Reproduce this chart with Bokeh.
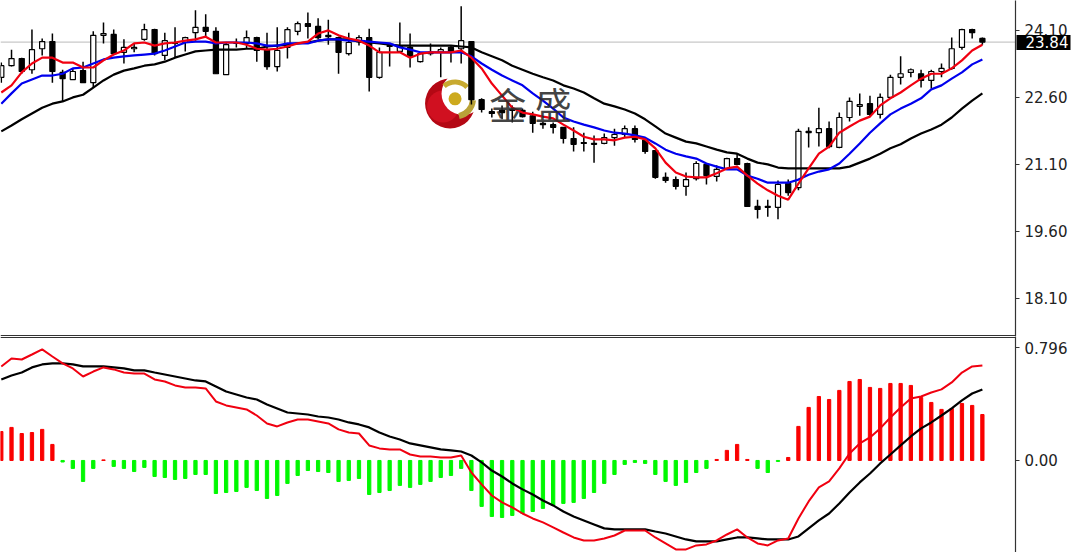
from bokeh.plotting import figure
from bokeh.layouts import column
from bokeh.models import Range1d, FixedTicker, Span, Label, ColumnDataSource, LinearAxis
from bokeh.embed import file_html
from bokeh.resources import INLINE

opens = [23.05,23.31,23.47,23.22,23.69,23.85,23.16,23.00,23.20,22.93,
23.99,24.01,23.61,23.69,23.90,24.12,23.54,23.81,23.83,24.05,
24.17,24.08,23.11,23.81,23.81,23.94,23.67,23.29,23.72,24.08,
24.25,24.19,23.96,23.94,23.58,23.85,23.94,23.05,23.74,23.63,
23.72,23.40,23.58,23.61,23.72,23.69,23.85,22.55,22.28,22.31,
22.31,22.31,22.19,21.99,21.99,21.93,21.68,21.57,21.55,21.57,
21.70,21.77,21.90,21.64,21.41,20.81,20.76,20.61,20.78,21.10,
20.83,21.01,21.23,21.12,20.16,20.14,20.14,20.67,20.58,21.81,
21.81,21.90,21.48,22.15,22.40,22.46,22.22,22.60,23.05,23.16,
23.13,22.98,23.18,23.25,23.72,24.12,23.92]
closes = [23.31,23.47,23.18,23.67,23.85,23.18,23.02,23.18,22.93,23.99,
24.03,23.58,23.72,23.72,24.12,23.58,23.87,23.83,23.94,24.17,
24.08,23.13,23.78,23.83,23.94,23.65,23.29,23.65,24.12,24.25,
24.19,23.94,23.99,23.61,23.83,23.94,23.05,23.61,23.76,23.74,
23.52,23.58,23.61,23.67,23.63,23.87,22.55,22.33,22.24,22.26,
22.33,22.17,22.02,22.02,21.93,21.68,21.55,21.59,21.57,21.70,
21.77,21.90,21.66,21.39,20.81,20.74,20.61,20.76,21.12,20.85,
20.99,21.23,21.10,20.16,20.09,20.16,20.65,20.47,21.84,21.84,
21.90,21.50,22.15,22.51,22.44,22.22,22.60,23.05,23.13,23.22,
22.98,23.18,23.25,23.69,24.12,24.05,23.84]
highs = [23.38,23.67,23.49,24.12,23.92,24.03,23.22,23.25,23.40,24.08,
24.28,24.12,23.90,23.81,24.25,24.14,24.05,24.17,23.96,24.55,
24.46,24.17,23.83,23.92,24.10,23.96,24.05,24.17,24.17,24.30,
24.50,24.37,24.34,23.96,24.05,23.99,24.14,23.72,23.76,24.28,
24.03,23.61,23.81,23.72,23.76,24.64,23.85,22.58,22.35,22.42,
22.42,22.35,22.28,22.06,22.04,21.93,21.93,21.81,21.75,21.79,
21.90,21.97,21.97,21.70,21.41,20.92,20.83,20.92,21.17,21.12,
21.08,21.25,21.34,21.14,20.31,20.31,20.74,20.76,21.90,21.93,
22.37,22.06,22.26,22.60,22.69,22.64,22.69,23.11,23.52,23.25,
23.22,23.22,23.36,23.94,24.14,24.14,23.94]
lows = [22.93,23.29,23.13,23.13,23.54,22.93,22.51,23.00,22.93,22.82,
23.81,23.58,23.36,23.61,23.87,23.54,23.43,23.49,23.63,23.87,
23.96,23.13,23.11,23.72,23.69,23.40,23.22,23.18,23.47,23.99,
23.92,23.90,23.78,23.13,23.54,23.76,22.73,23.02,23.29,23.61,
23.27,23.38,23.54,23.05,23.38,23.36,22.44,22.26,22.15,22.11,
22.04,22.15,21.81,21.90,21.79,21.57,21.39,21.39,21.14,21.55,
21.52,21.70,21.59,21.34,20.78,20.69,20.54,20.40,20.74,20.65,
20.72,20.99,21.08,20.16,19.89,19.93,19.87,20.40,20.52,21.48,
21.50,21.46,21.46,22.06,22.19,22.17,22.13,22.60,22.89,23.05,
22.82,22.80,23.05,23.22,23.67,23.92,23.78]
ma_red = [22.71,22.87,23.16,23.36,23.49,23.49,23.38,23.38,23.27,23.27,
23.43,23.56,23.65,23.81,23.83,23.76,23.81,23.83,23.87,23.90,
23.96,23.83,23.83,23.83,23.78,23.69,23.67,23.69,23.74,23.81,
23.85,24.03,24.10,23.99,23.92,23.87,23.76,23.61,23.61,23.61,
23.49,23.58,23.61,23.61,23.61,23.65,23.49,23.25,22.91,22.64,
22.37,22.26,22.22,22.17,22.13,21.99,21.86,21.72,21.66,21.66,
21.64,21.70,21.72,21.66,21.46,21.14,20.92,20.83,20.81,20.81,
20.90,21.01,21.05,20.85,20.67,20.52,20.40,20.31,20.67,21.01,
21.34,21.50,21.81,21.95,22.08,22.17,22.42,22.58,22.71,22.87,
23.02,23.13,23.13,23.25,23.43,23.65,23.78]
ma_blue = [22.46,22.69,22.91,23.00,23.09,23.09,23.13,23.25,23.27,23.36,
23.45,23.49,23.52,23.54,23.56,23.58,23.65,23.74,23.83,23.85,
23.85,23.81,23.83,23.83,23.83,23.81,23.76,23.76,23.81,23.81,
23.81,23.87,23.90,23.90,23.87,23.87,23.85,23.83,23.81,23.72,
23.67,23.61,23.61,23.61,23.61,23.61,23.52,23.36,23.22,23.09,
22.98,22.87,22.69,22.53,22.35,22.15,22.06,21.99,21.93,21.86,
21.81,21.79,21.75,21.70,21.57,21.43,21.34,21.28,21.23,21.12,
21.05,20.99,20.99,20.85,20.78,20.69,20.69,20.69,20.76,20.87,
20.94,20.99,21.12,21.34,21.57,21.81,22.02,22.22,22.35,22.46,
22.58,22.78,22.87,23.02,23.16,23.34,23.45]
ma_black = [21.84,21.97,22.11,22.24,22.37,22.46,22.51,22.60,22.66,22.82,
22.98,23.11,23.20,23.25,23.31,23.34,23.40,23.49,23.56,23.63,
23.65,23.67,23.67,23.67,23.69,23.69,23.74,23.76,23.78,23.81,
23.83,23.87,23.90,23.90,23.90,23.85,23.83,23.81,23.78,23.76,
23.76,23.76,23.76,23.76,23.76,23.74,23.72,23.61,23.52,23.43,
23.31,23.22,23.13,23.05,22.98,22.87,22.80,22.71,22.58,22.46,
22.40,22.33,22.24,22.11,21.95,21.79,21.70,21.61,21.57,21.50,
21.43,21.37,21.34,21.23,21.14,21.10,21.03,21.01,21.01,21.01,
21.01,21.01,21.01,21.05,21.14,21.23,21.34,21.46,21.55,21.68,
21.79,21.88,21.99,22.15,22.35,22.53,22.69]
macd_hist = [0.204,0.233,0.190,0.197,0.219,0.113,-0.011,-0.056,-0.148,-0.056,
0.004,-0.042,-0.056,-0.078,-0.049,-0.113,-0.120,-0.134,-0.127,-0.099,
-0.099,-0.233,-0.226,-0.219,-0.190,-0.212,-0.268,-0.247,-0.162,-0.106,
-0.071,-0.078,-0.085,-0.148,-0.141,-0.127,-0.240,-0.226,-0.212,-0.176,
-0.190,-0.169,-0.148,-0.120,-0.106,-0.056,-0.212,-0.324,-0.395,-0.402,
-0.388,-0.374,-0.360,-0.338,-0.317,-0.303,-0.296,-0.268,-0.226,-0.162,
-0.099,-0.028,-0.014,-0.021,-0.099,-0.148,-0.176,-0.155,-0.085,-0.056,
0.007,0.071,0.113,0.007,-0.056,-0.085,-0.007,0.021,0.240,0.374,
0.451,0.430,0.494,0.557,0.571,0.515,0.508,0.543,0.543,0.529,
0.444,0.409,0.360,0.367,0.402,0.388,0.324]
macd_red = [.663,.719,.712,.747,.783,.733,.684,.649,.592,.627,
.656,.642,.620,.613,.613,.571,.557,.529,.515,.515,
.508,.416,.388,.374,.360,.317,.261,.240,.268,.289,
.289,.275,.261,.219,.197,.190,.106,.085,.078,.078,
.042,.028,.028,.021,.021,.035,-.085,-.169,-.247,-.296,
-.331,-.374,-.409,-.437,-.472,-.508,-.543,-.564,-.564,-.550,
-.529,-.494,-.494,-.494,-.543,-.585,-.627,-.627,-.599,-.592,
-.564,-.522,-.486,-.543,-.585,-.599,-.564,-.550,-.409,-.289,
-.190,-.148,-.056,.049,.120,.162,.226,.303,.374,.437,
.451,.479,.501,.550,.620,.663,.670]
macd_black = [.571,.599,.620,.656,.677,.684,.684,.677,.663,.663,
.663,.656,.649,.635,.635,.620,.606,.592,.578,.564,
.557,.522,.486,.465,.444,.430,.395,.367,.338,.331,
.324,.310,.303,.289,.268,.254,.233,.197,.169,.148,
.120,.106,.092,.078,.071,.063,.035,-.014,-.071,-.113,
-.162,-.204,-.240,-.282,-.317,-.360,-.395,-.423,-.451,-.479,
-.486,-.486,-.486,-.486,-.501,-.515,-.536,-.557,-.571,-.571,
-.571,-.557,-.543,-.543,-.550,-.557,-.557,-.557,-.536,-.479,
-.423,-.374,-.303,-.226,-.155,-.092,-.021,.042,.106,.169,
.226,.268,.317,.367,.423,.472,.501]
price_ticks = [18.10, 19.60, 21.10, 22.60, 24.10]
price_labels = ["18.10", "19.60", "21.10", "22.60", "24.10"]
macd_ticks = [0.0, 0.796]
macd_labels = ["0.00", "0.796"]
last_price = 23.84
last_label = "23.84"
logo_text = "金 盛"

idx = list(range(len(opens)))
X0 = -0.078
X1 = 99.24
FONT = "DejaVu Sans"
AXIS = "#333333"
TXT = "#222222"


def base(height, y_range):
    p = figure(width=1071, height=height, output_backend="svg", toolbar_location=None,
               x_range=Range1d(X0, X1), y_range=y_range,
               x_axis_location=None, y_axis_location="right",
               min_border_left=0, min_border_top=0, min_border_bottom=0, min_border_right=55,
               outline_line_color=None, background_fill_color="white", border_fill_color="white")
    p.grid.visible = False
    a = p.yaxis[0]
    a.axis_line_color = AXIS
    a.axis_line_width = 1.2
    a.major_tick_line_color = AXIS
    a.major_tick_out = 4
    a.major_tick_in = 0
    a.minor_tick_line_color = None
    a.major_label_standoff = 5
    a.major_label_text_font = FONT
    a.major_label_text_font_size = "15px"
    a.major_label_text_color = TXT
    return p


# ---- price panel
P_TOP = 24.77
P_SCALE = 0.02239
price = base(336, Range1d(P_TOP - 336 * P_SCALE, P_TOP))
price.yaxis[0].ticker = FixedTicker(ticks=price_ticks)
price.yaxis[0].major_label_overrides = dict(zip(price_ticks, price_labels))

# last-price flag: a second right axis whose single tick is the black box
flag = LinearAxis(ticker=FixedTicker(ticks=[last_price]),
                  major_label_overrides={last_price: last_label},
                  axis_line_color=None, minor_tick_line_color=None,
                  major_tick_line_color="black", major_tick_line_width=15,
                  major_tick_in=54, major_tick_out=0,
                  major_label_standoff=-45, major_label_text_color="white",
                  major_label_text_font=FONT, major_label_text_font_size="15px")
price.add_layout(flag, "right")


def lx(px):
    return X0 + px / 1016 * (X1 - X0)


def ly(py):
    return P_TOP - py * P_SCALE


price.add_layout(Span(location=last_price, dimension="width", line_color="#c8c8c8",
                      line_width=1.2, level="underlay"))
price.add_layout(Span(location=ly(335), dimension="width", line_color=AXIS, line_width=1.2))

# logo (under the candles)
price.scatter([lx(450)], [ly(103)], size=50, color="#b40814", line_color=None)
price.scatter([lx(443)], [ly(106)], size=32, color="#d01020", line_color=None)
price.scatter([lx(463)], [ly(93)], size=43, color="white", line_color=None)
price.annular_wedge([lx(455)], [ly(98)], inner_radius=14, outer_radius=19,
                    inner_radius_units="screen", outer_radius_units="screen",
                    start_angle=0.75, end_angle=2.3, color="#c8aa30", line_color=None)
price.annular_wedge([lx(455)], [ly(98)], inner_radius=15, outer_radius=21,
                    inner_radius_units="screen", outer_radius_units="screen",
                    start_angle=-1.35, end_angle=-0.1, color="#b9a238", line_color=None)
price.scatter([lx(455)], [ly(98.3)], size=13, color="#cdaa1e", line_color=None)

src = ColumnDataSource(dict(
    i=idx, h=highs, l=lows, o=opens, c=closes,
    top=[max(a, b) for a, b in zip(opens, closes)],
    bot=[min(a, b) for a, b in zip(opens, closes)],
    fill=["white" if c > o else "black" for o, c in zip(opens, closes)],
))
price.segment("i", "h", "i", "l", source=src, line_color="black", line_width=1.5)
price.vbar("i", 0.5, "top", "bot", source=src, fill_color="fill", line_color="black", line_width=1.2)
price.line(idx, ma_black, line_color="black", line_width=2.2)
price.line(idx, ma_blue, line_color="#0000ee", line_width=2.2)
price.line(idx, ma_red, line_color="#f00010", line_width=2.2)

price.add_layout(Label(x=530, y=ly(103), x_units="screen", y_units="data", text=logo_text,
                       text_color="#2a2a2a", text_alpha=0.88, text_font="Noto Sans CJK SC",
                       text_font_size="37px", text_align="center", text_baseline="middle"))

# ---- MACD panel
macd = base(216, Range1d(-0.649, 0.874))
macd.yaxis[0].ticker = FixedTicker(ticks=macd_ticks)
macd.yaxis[0].major_label_overrides = dict(zip(macd_ticks, macd_labels))
macd.add_layout(Span(location=0.867, dimension="width", line_color=AXIS, line_width=1.2))
macd.vbar(idx, 0.32, macd_hist, 0,
          color=["#fa0000" if v > 0 else "#00f800" for v in macd_hist])
macd.line(idx, macd_black, line_color="black", line_width=2.2)
macd.line(idx, macd_red, line_color="#f00010", line_width=2)

page = column(price, macd, spacing=0)
open("out.html", "w").write(file_html(page, INLINE))
